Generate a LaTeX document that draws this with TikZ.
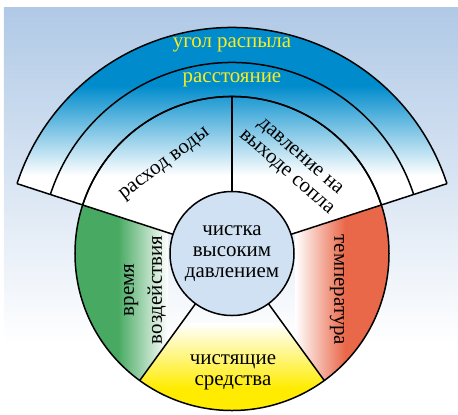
\documentclass[tikz,border=0pt]{standalone}
\usepackage{fontspec}
\setmainfont{Liberation Serif}
\definecolor{bgblue}{RGB}{176,201,230}
\definecolor{bandblue}{RGB}{0,140,204}
\definecolor{hubblue}{RGB}{207,225,242}
\definecolor{ringgreen}{RGB}{72,170,98}
\definecolor{ringred}{RGB}{234,104,74}
\definecolor{ringyellow}{RGB}{255,236,0}
\definecolor{labelyellow}{RGB}{250,236,30}
\tikzset{
  lbl/.style={font=\fontsize{21}{21}\selectfont,align=center,inner sep=0pt},
  bandlbl/.style={lbl,text=labelyellow}
}
\begin{document}
\begin{tikzpicture}[x=1bp,y=1bp,line width=1.5bp]
  \useasboundingbox (-232,-160.5) rectangle (226,253.5);
  % background
  \shade[top color=bgblue,bottom color=white] (-228,246.2) rectangle (226,-90);
  \fill[white] (-228,-90) rectangle (226,-160.5);
  % upper part: two bands and two sectors
  \begin{scope}
    \clip (18:226) arc (18:162:226) -- (162:62) arc (162:18:62) -- cycle;
    \fill[bandblue] (-230,168) rectangle (230,230);
    \shade[top color=bandblue,bottom color=white] (-230,78) rectangle (230,168);
    \fill[white] (-230,-10) rectangle (230,78);
  \end{scope}
  % lower sectors
  \begin{scope}
    \clip (0,0) -- (162:157) arc (162:234:157) -- cycle;
    \shade[left color=ringgreen,right color=white] (-114,-160) rectangle (-64,80);
    \fill[ringgreen] (-170,-160) rectangle (-114,80);
  \end{scope}
  \begin{scope}
    \clip (0,0) -- (234:157) arc (234:306:157) -- cycle;
    \shade[top color=white,bottom color=ringyellow] (-100,-70) rectangle (100,-135);
    \fill[ringyellow] (-100,-135) rectangle (100,-160);
  \end{scope}
  \begin{scope}
    \clip (0,0) -- (306:157) arc (306:378:157) -- cycle;
    \shade[left color=white,right color=ringred] (63,-160) rectangle (113,80);
    \fill[ringred] (113,-160) rectangle (170,80);
  \end{scope}
  % outlines
  \draw (0,0) circle (157);
  \draw (18:157) arc (18:162:157);
  \draw (18:191) arc (18:162:191);
  \draw (18:226) arc (18:162:226);
  \draw (18:62) -- (18:226);
  \draw (162:62) -- (162:226);
  \draw (90:62) -- (90:157);
  \draw (234:62) -- (234:157);
  \draw (306:62) -- (306:157);
  \draw[fill=hubblue] (0,0) circle (62);
  % labels
  \node[lbl] (hub) at (0,0) {чистка\\высоким\\давлением};
  \node[bandlbl] (ugol) at (90:208.5) {угол распыла};
  \node[bandlbl] (rasst) at (90:174) {расстояние};
  \node[lbl,rotate=37] (rashod) at (127:111) {расход воды};
  \node[lbl,rotate=-41] (davl) at (55.5:107) {давление на\\выходе сопла};
  \node[lbl,rotate=90,font=\fontsize{21}{28}\selectfont] (vremya) at (-87,-36.5) {время\\воздействия};
  \node[lbl,rotate=-90] (temp) at (105,-36.5) {температура};
  \node[lbl] (sredstva) at (1,-119) {чистящие\\средства};
\end{tikzpicture}
\end{document}
